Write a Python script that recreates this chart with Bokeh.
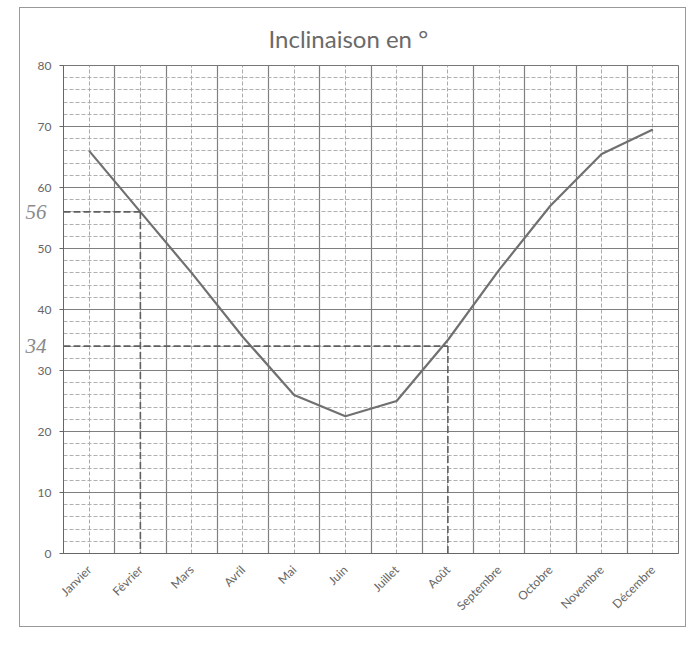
import numpy as np
from bokeh.plotting import figure
from bokeh.models import FixedTicker, LinearAxis
from bokeh.embed import file_html
from bokeh.resources import INLINE

months = ["Janvier", "Février", "Mars", "Avril", "Mai", "Juin", "Juillet",
          "Août", "Septembre", "Octobre", "Novembre", "Décembre"]
inclinaison = [66, 56, 46, 35.5, 26, 22.5, 25, 35, 46.5, 57, 65.5, 69.5]
y_ticks = [0, 10, 20, 30, 40, 50, 60, 70, 80]

# hand-written reading annotations on the printed chart
annot_months = ["Février", "Août"]
annot_values = [56, 34]
annot_texts = ["56", "34"]

centers = [i + 0.5 for i in range(len(months))]
bounds = list(range(len(months) + 1))

p = figure(width=667, height=620, x_range=(0, len(months)), y_range=(0, 80),
           output_backend="svg", toolbar_location=None,
           title="Inclinaison en °",
           min_border_left=43, min_border_right=9, min_border_top=57, min_border_bottom=75)
p.margin = (7, 0, 0, 19)
p.styles = {"border": "1px solid #999"}

p.title.align = "left"
p.title.offset = 205
p.title.text_font = "Lato"
p.title.text_font_size = "24px"
p.title.text_font_style = "normal"
p.title.text_color = "#6a6a6a"
p.title.standoff = 26

# axes
p.xaxis.ticker = FixedTicker(ticks=centers)
p.xaxis.major_label_overrides = {c: m for c, m in zip(centers, months)}
p.xaxis.major_label_orientation = np.pi / 4
p.xaxis.minor_tick_line_color = None
p.yaxis.ticker = FixedTicker(ticks=y_ticks)
p.yaxis.minor_tick_line_color = None
p.yaxis.major_tick_in = 0
p.yaxis.major_tick_out = 4
for ax in (p.xaxis, p.yaxis):
    ax.axis_line_color = "#666"
    ax.major_label_text_font = "Lato"
    ax.major_label_text_font_size = "12px"
    ax.major_label_text_color = "#666"
p.xaxis.major_tick_line_color = None
p.yaxis.major_tick_line_color = "#666"
p.yaxis.major_label_standoff = 8
p.xaxis.major_label_standoff = 8

# second left axis carrying the hand-written readings
annot_axis = LinearAxis(ticker=FixedTicker(ticks=annot_values),
                        major_label_overrides={v: t for v, t in zip(annot_values, annot_texts)},
                        axis_line_color=None, major_tick_line_color=None,
                        major_tick_out=0, major_tick_in=0,
                        minor_tick_line_color=None,
                        major_label_text_font="Liberation Serif",
                        major_label_text_font_style="italic",
                        major_label_text_font_size="21px",
                        major_label_text_color="#8a8a8a",
                        major_label_standoff=-12)
p.add_layout(annot_axis, "left")

# grids
p.ygrid.ticker = FixedTicker(ticks=y_ticks, minor_ticks=list(range(0, 81, 2)))
p.ygrid.grid_line_color = "#7f7f7f"
p.ygrid.grid_line_width = 1.2
p.ygrid.minor_grid_line_color = "#b0b0b0"
p.ygrid.minor_grid_line_dash = "4 2"
p.xgrid.ticker = FixedTicker(ticks=bounds, minor_ticks=centers)
p.xgrid.grid_line_color = "#7f7f7f"
p.xgrid.grid_line_width = 1.2
p.xgrid.minor_grid_line_color = "#aaaaaa"
p.xgrid.minor_grid_line_dash = "4 2"

p.outline_line_color = "#777"
p.background_fill_color = "white"
p.border_fill_color = "white"

# data line
p.line(centers, inclinaison, line_color="#707070", line_width=2.2)

# hand-drawn dashed reading lines
for m, v in zip(annot_months, annot_values):
    xm = months.index(m) + 0.5
    p.segment(x0=[0], y0=[v], x1=[xm], y1=[v], line_color="#5f5f5f",
              line_width=1.6, line_dash="7 3")
    p.segment(x0=[xm], y0=[v], x1=[xm], y1=[0], line_color="#5f5f5f",
              line_width=1.6, line_dash="7 3")

open("out.html", "w").write(file_html(p, INLINE))
